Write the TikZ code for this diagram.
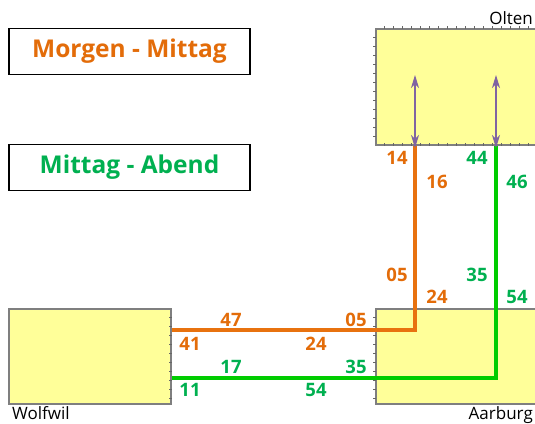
\documentclass[tikz,border=0pt]{standalone}
\usepackage{fontspec}
\setmainfont{Open Sans}
\usetikzlibrary{arrows.meta}

\definecolor{ligneorange}{HTML}{E8720F}
\definecolor{texteorange}{HTML}{E36C09}
\definecolor{ligneverte}{HTML}{00CC00}
\definecolor{texteverte}{HTML}{00B050}
\definecolor{fondgare}{HTML}{FFFF99}
\definecolor{bordgare}{HTML}{7F7F7F}
\definecolor{violet}{HTML}{8064A2}

\tikzset{
  gare/.style={draw=bordgare, fill=fondgare, line width=2pt, inner sep=0pt, anchor=north west},
  legende/.style={draw=black, fill=white, line width=1.6pt, minimum width=241pt, minimum height=46pt, font=\fontsize{24.5}{28}\selectfont\bfseries},
  heure/.style={font=\fontsize{18.5}{22}\selectfont\bfseries, inner sep=0pt},
  nomgare/.style={font=\fontsize{17}{20}\selectfont, inner sep=0pt},
  graduation/.style={draw=black!60, line width=0.5pt},
  fleche/.style={violet, line width=1.2pt, <->, >={Stealth[length=13pt,width=8pt,inset=4pt]}}
}

\begin{document}
\begin{tikzpicture}[x=1pt,y=-1pt]
    \useasboundingbox (0,0) rectangle (535,423);

    % Gares
    \node[gare, minimum width=170pt, minimum height=116pt] (olten) at (375,28) {};
    \node[gare, minimum width=162pt, minimum height=95pt] (wolfwil) at (8,308) {};
    \node[gare, minimum width=170pt, minimum height=95pt] (aarburg) at (375,308) {};

    % Graduations
    \foreach \x in {384,393,...,530} {
        \draw[graduation] (\x,26) -- ++(0,3);
        \draw[graduation] (\x,143) -- ++(0,3);
    }
    \foreach \y in {37,46,...,140} \draw[graduation] (373,\y) -- ++(3,0);
    \foreach \y in {317,326,...,400} {
        \draw[graduation] (169,\y) -- ++(3,0);
        \draw[graduation] (373,\y) -- ++(3,0);
    }

    % Noms des gares
    \node[nomgare, anchor=south east] (nOlten) at (533,25) {Olten};
    \node[nomgare, anchor=north west] (nWolfwil) at (12,406) {Wolfwil};
    \node[nomgare, anchor=north east] (nAarburg) at (533,406) {Aarburg};

    % Légende
    \node[legende, text=texteorange] (matin) at (129.5,51.5) {Morgen - Mittag};
    \node[legende, text=texteverte] (soir) at (129.5,167.5) {Mittag - Abend};

    % Lignes
    \coordinate (coinO) at (415,330);
    \coordinate (coinV) at (496,378);
    \draw[ligneorange, line width=3.5pt] (wolfwil.east |- coinO) -- (coinO) -- (olten.south -| coinO);
    \draw[ligneverte, line width=3.5pt] (wolfwil.east |- coinV) -- (coinV) -- (olten.south -| coinV);

    % Flèches
    \coordinate (hautO) at (415,75);
    \coordinate (hautV) at (496,75);
    \draw[fleche] (hautO) -- ([yshift=-2pt]olten.south -| hautO);
    \draw[fleche] (hautV) -- ([yshift=-2pt]olten.south -| hautV);

    % Horaires orange
    \node[heure, text=texteorange] (o14) at (397,158) {14};
    \node[heure, text=texteorange] (o16) at (437,182) {16};
    \node[heure, text=texteorange] (o05a) at (397,275) {05};
    \node[heure, text=texteorange] (o24a) at (437,297) {24};
    \node[heure, text=texteorange] (o47) at (231,320) {47};
    \node[heure, text=texteorange] (o05b) at (356,320) {05};
    \node[heure, text=texteorange] (o41) at (190,344) {41};
    \node[heure, text=texteorange] (o24b) at (316,344) {24};

    % Horaires verts
    \node[heure, text=texteverte] (v44) at (477,158) {44};
    \node[heure, text=texteverte] (v46) at (517,182) {46};
    \node[heure, text=texteverte] (v35a) at (477,275) {35};
    \node[heure, text=texteverte] (v54a) at (517,297) {54};
    \node[heure, text=texteverte] (v17) at (231,367) {17};
    \node[heure, text=texteverte] (v35b) at (356,367) {35};
    \node[heure, text=texteverte] (v11) at (190,390) {11};
    \node[heure, text=texteverte] (v54b) at (316,390) {54};
\end{tikzpicture}
\end{document}
